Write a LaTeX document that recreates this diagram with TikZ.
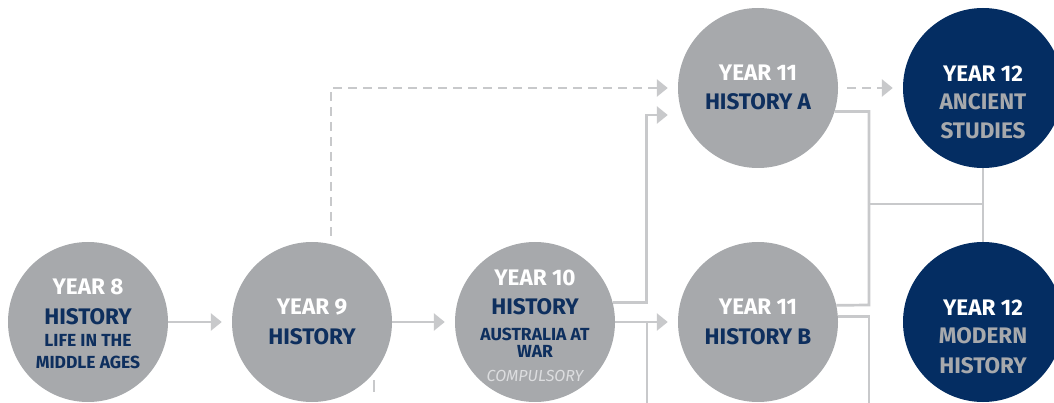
\documentclass[tikz,border=0pt]{standalone}
\usepackage{fontspec}
\setmainfont{Fira Sans}
\usetikzlibrary{arrows.meta,backgrounds}
\definecolor{circgray}{HTML}{A7A9AC}
\definecolor{linegray}{HTML}{C8C9CB}
\definecolor{navy}{HTML}{042D62}
\definecolor{navytxt}{HTML}{0E2F5E}
\definecolor{palegray}{HTML}{DCDDDF}
\tikzset{
  course/.style={circle, fill=circgray, minimum size=160pt, inner sep=0pt},
  senior/.style={course, fill=navy},
  yr/.style={anchor=base, inner sep=0pt, text=white, font=\bfseries\fontsize{22.5}{27}\selectfont},
  subj/.style={yr, text=navytxt},
  subjlite/.style={yr, text=circgray},
  minor/.style={anchor=base, inner sep=0pt, text=navytxt, font=\bfseries\fontsize{17.5}{22}\selectfont},
  remark/.style={anchor=base, inner sep=0pt, text=palegray, font=\itshape\fontsize{16}{20}\selectfont},
  link/.style={draw=linegray, line width=2.7pt},
  dlink/.style={link, dash pattern=on 9pt off 6pt},
  arrowed/.style={-{Triangle[length=11pt,width=17pt]}},
}
\begin{document}
\begin{tikzpicture}[x=1pt,y=-1pt]
\useasboundingbox (0,0) rectangle (1054,403);
% circles
\node[course] (y8) at (88,322) {};
\node[course] (y9) at (312,322) {};
\node[course] (y10) at (535,322) {};
\node[course] (y11a) at (758,88) {};
\node[course] (y11b) at (758,322) {};
\node[senior] (y12a) at (983,88) {};
\node[senior] (y12m) at (983,322) {};
% texts
\node[yr] (t8a) at (88,294.5) {YEAR 8};
\node[subj] (t8b) at (88,324) {HISTORY};
\node[minor] (t8c) at (88,346) {LIFE IN THE};
\node[minor] (t8d) at (88,368.5) {MIDDLE AGES};
\node[yr] (t9a) at (312,314) {YEAR 9};
\node[subj] (t9b) at (312,344) {HISTORY};
\node[yr] (t10a) at (535,285) {YEAR 10};
\node[subj] (t10b) at (535,314) {HISTORY};
\node[minor] (t10c) at (535,340) {AUSTRALIA AT};
\node[minor] (t10d) at (535,357) {WAR};
\node[remark] (t10e) at (535,381) {COMPULSORY};
\node[yr] (t11a) at (758,81) {YEAR 11};
\node[subj] (t11b) at (758,110) {HISTORY A};
\node[yr] (t11c) at (758,314) {YEAR 11};
\node[subj] (t11d) at (758,344) {HISTORY B};
\node[yr] (t12a) at (983,82) {YEAR 12};
\node[subjlite] (t12b) at (983,110) {ANCIENT};
\node[subjlite] (t12c) at (983,139) {STUDIES};
\node[yr] (t12d) at (983,315) {YEAR 12};
\node[subjlite] (t12e) at (983,343) {MODERN};
\node[subjlite] (t12f) at (983,373) {HISTORY};
% junctions and free ends
\coordinate (jb) at (647,322);
\coordinate (offb) at (647,415);
\coordinate (jv) at (869,305);
\coordinate (jc) at (869,204);
\coordinate (jm) at (983,204);
\coordinate (offc) at (869,415);
\coordinate (tk) at (374,380);
\coordinate (offa) at (374,415);
% connectors
\begin{scope}[on background layer]
\draw[link, arrowed] (y8.east) -- ([xshift=-10pt]y9.west);
\draw[link, arrowed] (y9.east) -- ([xshift=-10pt]y10.west);
\draw[dlink, arrowed] ([xshift=19pt,yshift=6pt]y9.north) |- ([xshift=-10pt]y11a.west);
\draw[link, arrowed] (y10.14) -| ([xshift=-31pt,yshift=-27pt]y11a.west) -- ([xshift=-10pt,yshift=-27pt]y11a.west);
\draw[link, arrowed] (y10.east) -- ([xshift=-10pt]y11b.west);
\draw[link] (jb) -- (offb);
\draw[dlink, arrowed] ([xshift=9pt]y11a.east) -- ([xshift=-10pt]y12a.west);
\draw[link] (y11a.-17) -| (jv) -- (y11b.12);
\draw[link] (jc) -- (jm);
\draw[link] (y12a.south) -- (y12m.north);
\draw[link] (y11b.4) -| (offc);
\draw[link, line width=2pt, dash pattern=on 12pt off 30pt] (tk) -- (offa);
\end{scope}
\end{tikzpicture}
\end{document}
